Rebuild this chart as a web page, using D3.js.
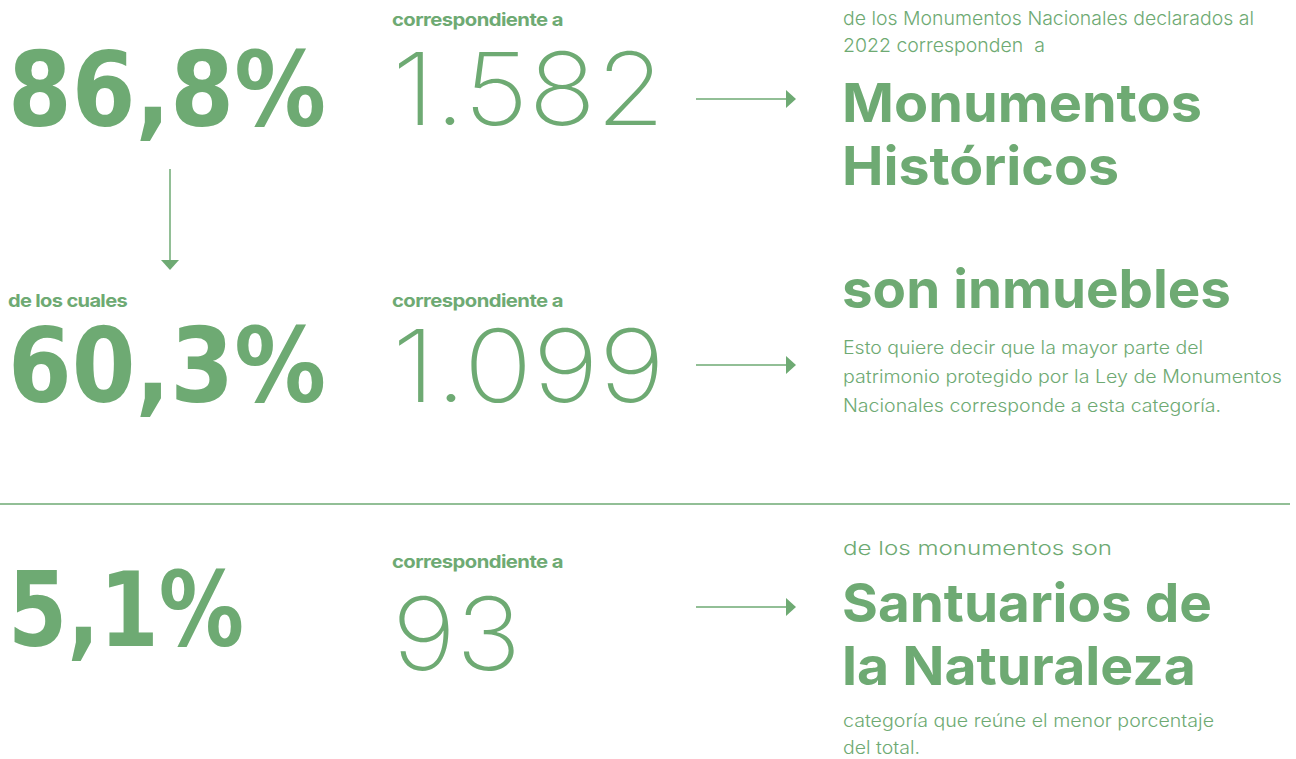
<!DOCTYPE html>
<html>
<head>
<meta charset="utf-8">
<script src="https://cdn.jsdelivr.net/npm/d3@7"></script>
<style>
  html, body { margin: 0; padding: 0; background: #fff; }
  svg { display: block; }
  text { white-space: pre; }
</style>
</head>
<body>
<div id="chart"></div>
<script>
// datos
const porcentajes = ["86,8%", "60,3%", "5,1%"];
const cantidades = ["1.582", "1.099", "93"];
const etiquetaPrevia = ["", "de los cuales", ""];
const conector = "correspondiente a";
const introTextos = [
  ["de los Monumentos Nacionales declarados al", "2022 corresponden  a"],
  [],
  ["de los monumentos son"]
];
const categorias = [
  ["Monumentos", "Históricos"],
  ["son inmuebles"],
  ["Santuarios de", "la Naturaleza"]
];
const notas = [
  [],
  ["Esto quiere decir que la mayor parte del", "patrimonio protegido por la Ley de Monumentos", "Nacionales corresponde a esta categoría."],
  ["categoría que reúne el menor porcentaje", "del total."]
];

const W = 1296, H = 759;
const verde = "#6eaa73";

const svg = d3.select("#chart").append("svg")
  .attr("width", W).attr("height", H);

// posiciones de cada fila
const filaBase = [126, 402, 646];     // base de los porcentajes
const cantBase = [125, 402, 670];     // base de las cantidades
const conectorY = [26, 307, 568];
const flechaY = [99, 365, 607];
const anchoPct = [318, 318, 236];
const anchoCant = [273, 273, 129];

function texto(g, s, x, y, size, weight, family, ancho) {
  const t = g.append("text")
    .attr("x", x).attr("y", y)
    .attr("fill", verde)
    .attr("font-size", size)
    .attr("font-weight", weight)
    .attr("font-family", family)
    .text(s);
  if (ancho) t.attr("textLength", ancho).attr("lengthAdjust", "spacingAndGlyphs");
  return t;
}

const fBig = "'DejaVu Sans', sans-serif";
const fHead = "Inter, 'Open Sans', sans-serif";
const fLight = "Inter, 'Open Sans', sans-serif";

porcentajes.forEach((p, i) => {
  const g = svg.append("g");
  texto(g, p, 8, filaBase[i], 103, 900, fBig, anchoPct[i]);
  texto(g, conector, 392, conectorY[i], 18, 700, fHead, 171)
    .attr("letter-spacing", -0.5);
  texto(g, cantidades[i], 392, cantBase[i], 101, 200, fLight, anchoCant[i]);

  // flecha horizontal
  const ya = flechaY[i];
  g.append("line").attr("x1", 696).attr("x2", 788).attr("y1", ya).attr("y2", ya)
    .attr("stroke", verde).attr("stroke-width", 1.5);
  g.append("path").attr("d", d3.line()([[786, ya - 9], [796, ya], [786, ya + 9]]) + "Z")
    .attr("fill", verde);

  if (etiquetaPrevia[i]) {
    texto(g, etiquetaPrevia[i], 8, 307, 18, 700, fHead, 119).attr("letter-spacing", -0.6);
  }
});

// flecha vertical
svg.append("line").attr("x1", 170).attr("x2", 170).attr("y1", 169).attr("y2", 262)
  .attr("stroke", verde).attr("stroke-width", 1.5);
svg.append("path").attr("d", d3.line()([[161, 260], [179, 260], [170, 270]]) + "Z")
  .attr("fill", verde);

// separador
svg.append("line").attr("x1", 0).attr("x2", 1290).attr("y1", 504).attr("y2", 504)
  .attr("stroke", verde).attr("stroke-width", 1.6);

// columna derecha
const gR = svg.append("g");
const introY = [[25, 52], [], [555]];
const introW = [[411, 202], [], [269]];
const catY = [[122, 185], [308], [622, 685]];
const catW = [[360, 277], [389], [370, 354]];
const notaY = [[], [354, 383, 412], [727, 754]];
const notaW = [[], [360, 439, 378], [371, 77]];

introTextos.forEach((lineas, i) => {
  lineas.forEach((s, j) => texto(gR, s, 843, introY[i][j], 19, 300, fLight, introW[i][j]));
});
categorias.forEach((lineas, i) => {
  lineas.forEach((s, j) => texto(gR, s, 842, catY[i][j], 54, 700, fHead, catW[i][j]));
});
notas.forEach((lineas, i) => {
  lineas.forEach((s, j) => texto(gR, s, 843, notaY[i][j], 18, 300, fLight, notaW[i][j]));
});
</script>
</body>
</html>
